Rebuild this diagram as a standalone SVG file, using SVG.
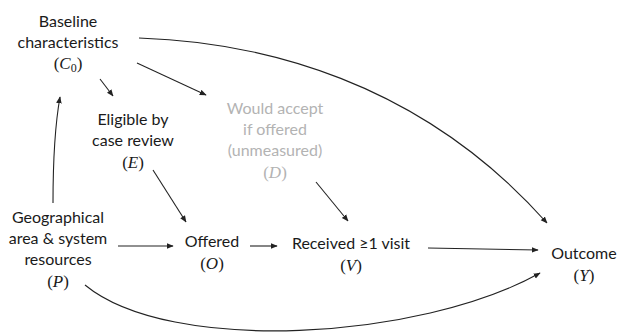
<svg xmlns="http://www.w3.org/2000/svg" width="617" height="332" viewBox="0 0 617 332">
<style>
text{font-family:Lato,"Open Sans","Liberation Sans",sans-serif;font-size:16px;fill:#1a1a1a;text-anchor:middle}
.m{font-family:"Liberation Serif","DejaVu Serif",serif;font-size:17px}
.i{font-style:italic}
.g text,.g{fill:#b3b3b3}
.c path{fill:none;stroke:#222;stroke-width:1.1}
</style>
<defs>
<marker id="ah" viewBox="0 0 10 10" refX="9" refY="5" markerWidth="7" markerHeight="7" markerUnits="userSpaceOnUse" orient="auto">
<path d="M0,1 L10,5 L0,9 z" fill="#222"/>
</marker>
</defs>
<g id="C0">
<text x="68" y="27">Baseline</text>
<text x="68" y="48">characteristics</text>
<text class="m" x="68" y="69">(<tspan class="i">C</tspan><tspan font-size="12" dy="3">0</tspan><tspan dy="-3">)</tspan></text>
</g>
<g id="E">
<text x="133" y="125">Eligible by</text>
<text x="133" y="146">case review</text>
<text class="m" x="133" y="168">(<tspan class="i">E</tspan>)</text>
</g>
<g id="D" class="g">
<text x="275" y="114">Would accept</text>
<text x="275" y="135">if offered</text>
<text x="275" y="156">(unmeasured)</text>
<text class="m" x="275" y="178">(<tspan class="i">D</tspan>)</text>
</g>
<g id="P">
<text x="58" y="223">Geographical</text>
<text x="58" y="244">area &amp; system</text>
<text x="58" y="265">resources</text>
<text class="m" x="58" y="287">(<tspan class="i">P</tspan>)</text>
</g>
<g id="O">
<text x="212" y="247">Offered</text>
<text class="m" x="212" y="269">(<tspan class="i">O</tspan>)</text>
</g>
<g id="V">
<text x="351" y="249">Received ≥1 visit</text>
<text class="m" x="351" y="271">(<tspan class="i">V</tspan>)</text>
</g>
<g id="Y">
<text x="584" y="259">Outcome</text>
<text class="m" x="584" y="281">(<tspan class="i">Y</tspan>)</text>
</g>
<g id="connectors" class="c">
<path d="M139,38 C260,42 420,80 547,223" marker-end="url(#ah)"/>
<path d="M100,79 L113,96" marker-end="url(#ah)"/>
<path d="M137,63 L206,95" marker-end="url(#ah)"/>
<path d="M53,203 C53,160 55,125 60,97" marker-end="url(#ah)"/>
<path d="M153,170 L186,222" marker-end="url(#ah)"/>
<path d="M118,246 L173,246" marker-end="url(#ah)"/>
<path d="M250,246 L277,246" marker-end="url(#ah)"/>
<path d="M316,182 L348,221" marker-end="url(#ah)"/>
<path d="M428,248 L538,250" marker-end="url(#ah)"/>
<path d="M85,285 C170,355 420,340 540,273" marker-end="url(#ah)"/>
</g>
</svg>
